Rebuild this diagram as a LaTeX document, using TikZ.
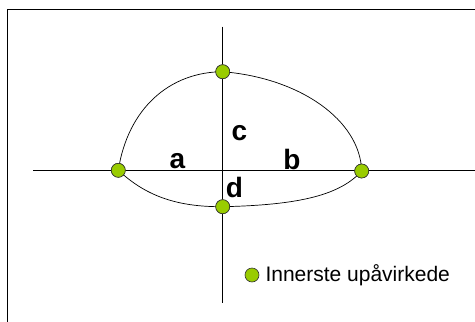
\documentclass[tikz,border=0pt]{standalone}
\usepackage{fontspec}
\setmainfont{Liberation Sans}
\usetikzlibrary{positioning}
\definecolor{dotgreen}{HTML}{99CC00}

\begin{document}
\begin{tikzpicture}[
  x = 1pt,
  y = -1pt,
  line join=round,
  dot/.style={circle, fill=dotgreen, draw=black!80, line width=0.6pt,
    minimum size=14pt, inner sep=0pt},
  lbl/.style={font=\fontsize{28}{32}\selectfont\bfseries}
]
  \useasboundingbox (0,0) rectangle (475,322);

  % ramme
  \draw[line width=1pt] (7.5,322) -- (7.5,9.5) -- (475,9.5);

  % akser
  \coordinate (xw) at (33,170.7);
  \coordinate (xe) at (475,170.7);
  \coordinate (yn) at (222.7,26.7);
  \coordinate (ys) at (222.7,303);
  \draw[line width=0.8pt] (xw) -- (xe);
  \draw[line width=0.8pt] (yn) -- (ys);

  % punkter
  \node[dot] (top)    at (222.7,71.7)  {};
  \node[dot] (left)   at (118.3,170.3) {};
  \node[dot] (right)  at (361.7,171)   {};
  \node[dot] (bottom) at (222.7,206.7) {};

  % kurve
  \draw[line width=0.7pt]
    (left.center) .. controls (128,108) and (170,72) .. (top.center)
    .. controls (300,78) and (360,120) .. (right.center)
    .. controls (340,195) and (300,205) .. (bottom.center)
    .. controls (175,207) and (145,195) .. (left.center);
  % punktene over kurven
  \foreach \p in {top,left,right,bottom}
    \node[dot] at (\p) {};

  % mål
  \node[lbl] at (239.3,133.5) {c};
  \node[lbl] at (177.5,161)   {a};
  \node[lbl] at (292,159)     {b};
  \node[lbl] at (234.5,187)   {d};

  % forklaring
  \node[dot] (legdot) at (252,275) {};
  \node[right=6pt of legdot, inner sep=0pt,
    font=\fontsize{21}{25}\selectfont] (legtext) {Innerste upåvirkede};
\end{tikzpicture}
\end{document}
